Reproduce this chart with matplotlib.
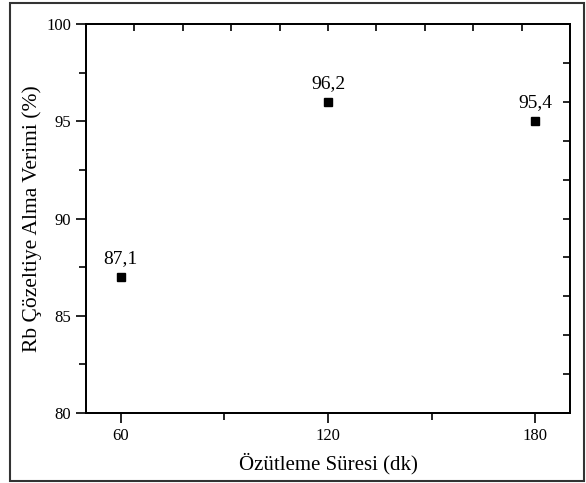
import matplotlib.pyplot as plt
from matplotlib.patches import Rectangle
import numpy as np

plt.rcParams['font.family'] = ['Liberation Serif', 'DejaVu Serif']

# data
sure = [60, 120, 180]
verim = [87.0, 96.0, 95.0]
etiket = ['87,1', '96,2', '95,4']

fig = plt.figure(figsize=(5.86, 4.83), dpi=100)
ax = fig.add_axes([0.1468, 0.1449, 0.8259, 0.8054])

ax.plot(sure, verim, 's', color='black', markersize=6, linestyle='none')
for x, y, t in zip(sure, verim, etiket):
    ax.annotate(t, (x, y), xytext=(0, 7), textcoords='offset points',
                ha='center', va='bottom', fontsize=14)

ax.set_xlim(50, 190)
ax.set_ylim(80, 100)
ax.set_xticks([60, 120, 180])
ax.set_xticks([90, 150], minor=True)
ax.set_yticks([80, 85, 90, 95, 100])
ax.set_yticks([82.5, 87.5, 92.5, 97.5], minor=True)
ax.tick_params(axis='both', which='major', direction='out', length=7, width=1.2,
               labelsize=12)
ax.tick_params(axis='both', which='minor', direction='out', length=5, width=1.2)

ax.set_xlabel('Özütleme Süresi (dk)', fontsize=15, labelpad=7)
ax.set_ylabel('Rb Çözeltiye Alma Verimi (%)', fontsize=15.5, labelpad=3)

for s in ax.spines.values():
    s.set_linewidth(1.2)

# mirror ticks on top and right, pointing inwards
top = ax.twiny()
top.set_xlim(ax.get_xlim())
top.set_xticks(np.arange(64, 177, 14))
top.tick_params(axis='x', direction='in', length=5, width=1.2,
                top=True, bottom=False, labeltop=False, labelbottom=False)
right = ax.twinx()
right.set_ylim(ax.get_ylim())
right.set_yticks(np.arange(80, 101, 2))
right.tick_params(axis='y', direction='in', length=5, width=1.2,
                  right=True, left=False, labelright=False, labelleft=False)
for a in (top, right):
    for s in a.spines.values():
        s.set_linewidth(1.2)

fig.patches.append(Rectangle((10 / 586, 2 / 483), 574 / 586, 478 / 483,
                             transform=fig.transFigure, fill=False,
                             edgecolor='#333333', linewidth=1.5))

fig.savefig('out.png', dpi=100)
